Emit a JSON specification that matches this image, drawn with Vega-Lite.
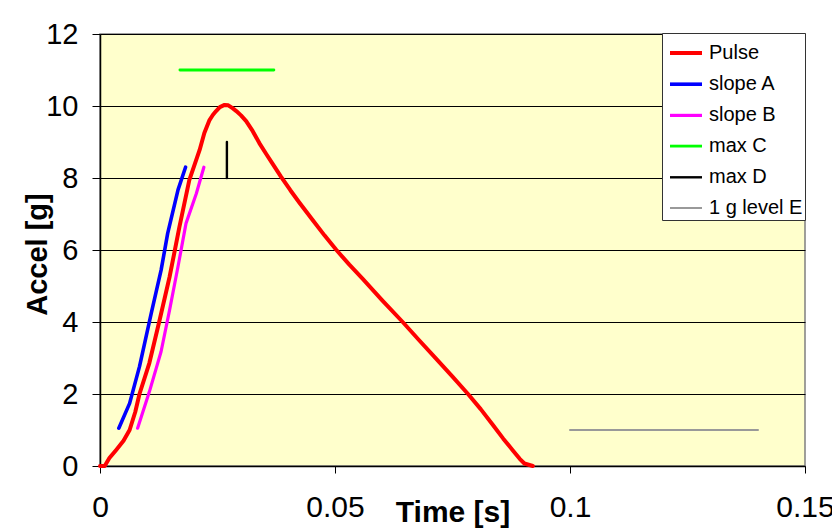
{
  "$schema": "https://vega.github.io/schema/vega-lite/v6.json",
  "width": 705,
  "height": 432,
  "autosize": {"type": "none"},
  "padding": {"left": 100, "top": 34, "right": 27, "bottom": 65},
  "background": "white",
  "config": {
    "font": "Liberation Sans",
    "view": {"fill": "#FFFFCC", "stroke": "#808080", "strokeWidth": 1.5}
  },
  "data": {
    "values": [
      {"series": "Pulse", "t": 0, "g": 0},
      {"series": "Pulse", "t": 0.001, "g": 0},
      {"series": "Pulse", "t": 0.002, "g": 0.22},
      {"series": "Pulse", "t": 0.0034, "g": 0.44},
      {"series": "Pulse", "t": 0.005, "g": 0.7},
      {"series": "Pulse", "t": 0.0063, "g": 1.0},
      {"series": "Pulse", "t": 0.0075, "g": 1.5},
      {"series": "Pulse", "t": 0.0084, "g": 2.0},
      {"series": "Pulse", "t": 0.0105, "g": 2.86},
      {"series": "Pulse", "t": 0.0127, "g": 4.06},
      {"series": "Pulse", "t": 0.0148, "g": 5.25},
      {"series": "Pulse", "t": 0.0169, "g": 6.64},
      {"series": "Pulse", "t": 0.019, "g": 7.94},
      {"series": "Pulse", "t": 0.0212, "g": 8.78},
      {"series": "Pulse", "t": 0.0222, "g": 9.25},
      {"series": "Pulse", "t": 0.0233, "g": 9.61},
      {"series": "Pulse", "t": 0.024, "g": 9.75},
      {"series": "Pulse", "t": 0.0247, "g": 9.86},
      {"series": "Pulse", "t": 0.0255, "g": 9.97},
      {"series": "Pulse", "t": 0.0265, "g": 10.03},
      {"series": "Pulse", "t": 0.0273, "g": 10.02},
      {"series": "Pulse", "t": 0.0282, "g": 9.94},
      {"series": "Pulse", "t": 0.029, "g": 9.86},
      {"series": "Pulse", "t": 0.03, "g": 9.74},
      {"series": "Pulse", "t": 0.0311, "g": 9.58},
      {"series": "Pulse", "t": 0.0325, "g": 9.3},
      {"series": "Pulse", "t": 0.0339, "g": 8.97},
      {"series": "Pulse", "t": 0.0353, "g": 8.68},
      {"series": "Pulse", "t": 0.0367, "g": 8.4},
      {"series": "Pulse", "t": 0.0385, "g": 8.04},
      {"series": "Pulse", "t": 0.0405, "g": 7.66},
      {"series": "Pulse", "t": 0.0424, "g": 7.32},
      {"series": "Pulse", "t": 0.0452, "g": 6.84},
      {"series": "Pulse", "t": 0.0478, "g": 6.4},
      {"series": "Pulse", "t": 0.0503, "g": 6.0},
      {"series": "Pulse", "t": 0.053, "g": 5.6},
      {"series": "Pulse", "t": 0.0559, "g": 5.2},
      {"series": "Pulse", "t": 0.06, "g": 4.61},
      {"series": "Pulse", "t": 0.0644, "g": 4.0},
      {"series": "Pulse", "t": 0.068, "g": 3.48},
      {"series": "Pulse", "t": 0.0715, "g": 2.98},
      {"series": "Pulse", "t": 0.075, "g": 2.48},
      {"series": "Pulse", "t": 0.0783, "g": 2.0},
      {"series": "Pulse", "t": 0.081, "g": 1.58},
      {"series": "Pulse", "t": 0.0836, "g": 1.14},
      {"series": "Pulse", "t": 0.0858, "g": 0.76},
      {"series": "Pulse", "t": 0.0878, "g": 0.44},
      {"series": "Pulse", "t": 0.0893, "g": 0.2},
      {"series": "Pulse", "t": 0.0903, "g": 0.07},
      {"series": "Pulse", "t": 0.0921, "g": 0},
      {"series": "slope A", "t": 0.004, "g": 1.05},
      {"series": "slope A", "t": 0.0063, "g": 1.74},
      {"series": "slope A", "t": 0.0084, "g": 2.76},
      {"series": "slope A", "t": 0.0109, "g": 4.24},
      {"series": "slope A", "t": 0.013, "g": 5.44},
      {"series": "slope A", "t": 0.0144, "g": 6.46},
      {"series": "slope A", "t": 0.0166, "g": 7.67},
      {"series": "slope A", "t": 0.0182, "g": 8.3},
      {"series": "slope B", "t": 0.008, "g": 1.05},
      {"series": "slope B", "t": 0.0105, "g": 2.06},
      {"series": "slope B", "t": 0.013, "g": 3.18},
      {"series": "slope B", "t": 0.0148, "g": 4.33},
      {"series": "slope B", "t": 0.0166, "g": 5.54},
      {"series": "slope B", "t": 0.0183, "g": 6.74},
      {"series": "slope B", "t": 0.0205, "g": 7.57},
      {"series": "slope B", "t": 0.0221, "g": 8.3},
      {"series": "max C", "t": 0.017, "g": 11},
      {"series": "max C", "t": 0.037, "g": 11},
      {"series": "max D", "t": 0.027, "g": 8},
      {"series": "max D", "t": 0.027, "g": 9},
      {"series": "1 g level E", "t": 0.1, "g": 1},
      {"series": "1 g level E", "t": 0.14, "g": 1}
    ]
  },
  "mark": {"type": "line", "strokeCap": "round", "strokeJoin": "round", "clip": false},
  "encoding": {
    "x": {
      "field": "t",
      "type": "quantitative",
      "scale": {"domain": [0, 0.15], "nice": false, "zero": false},
      "axis": {
        "values": [0, 0.05, 0.1, 0.15],
        "format": ".2~f",
        "grid": false,
        "title": "Time [s]",
        "titleFont": "Liberation Sans",
        "titleFontSize": 30,
        "titleFontWeight": "bold",
        "titleColor": "black",
        "titleBaseline": "alphabetic",
        "titleY": 55,
        "labelFontSize": 30,
        "labelColor": "black",
        "labelPadding": 19,
        "labelFlush": false,
        "labelOverlap": false,
        "tickColor": "black",
        "tickSize": 7,
        "domainColor": "black",
        "domainWidth": 1.5
      }
    },
    "y": {
      "field": "g",
      "type": "quantitative",
      "scale": {"domain": [0, 12], "nice": false},
      "axis": {
        "values": [0, 2, 4, 6, 8, 10, 12],
        "grid": true,
        "gridColor": "black",
        "gridWidth": 1,
        "gridOpacity": 1,
        "title": "Accel [g]",
        "titleFont": "Liberation Sans",
        "titleFontSize": 29,
        "titleFontWeight": "bold",
        "titleColor": "black",
        "titleBaseline": "alphabetic",
        "titleX": -54,
        "titleY": 220,
        "titleAngle": -90,
        "labelFontSize": 29,
        "labelColor": "black",
        "labelPadding": 14,
        "labelFlush": false,
        "tickColor": "black",
        "tickSize": 8,
        "domainColor": "black",
        "domainWidth": 1.5
      }
    },
    "color": {
      "field": "series",
      "type": "nominal",
      "scale": {
        "domain": ["Pulse", "slope A", "slope B", "max C", "max D", "1 g level E"],
        "range": ["#FF0000", "#0000FF", "#FF00FF", "#00FF00", "#000000", "#999999"]
      },
      "legend": {
        "title": null,
        "orient": "none",
        "legendX": 562,
        "legendY": -1,
        "fillColor": "white",
        "strokeColor": "#333333",
        "padding": 2,
        "symbolType": "stroke",
        "symbolSize": 1024,
        "symbolOffset": 4,
        "symbolStrokeWidth": 2.5,
        "rowPadding": 3.2,
        "labelFontSize": 20,
        "labelColor": "black",
        "labelOffset": 5,
        "labelExpr": "datum.label + '  '"
      }
    },
    "strokeWidth": {
      "field": "series",
      "type": "nominal",
      "scale": {
        "domain": ["Pulse", "slope A", "slope B", "max C", "max D", "1 g level E"],
        "range": [4, 2, 2, 3, 2, 3]
      },
      "legend": null
    }
  }
}
